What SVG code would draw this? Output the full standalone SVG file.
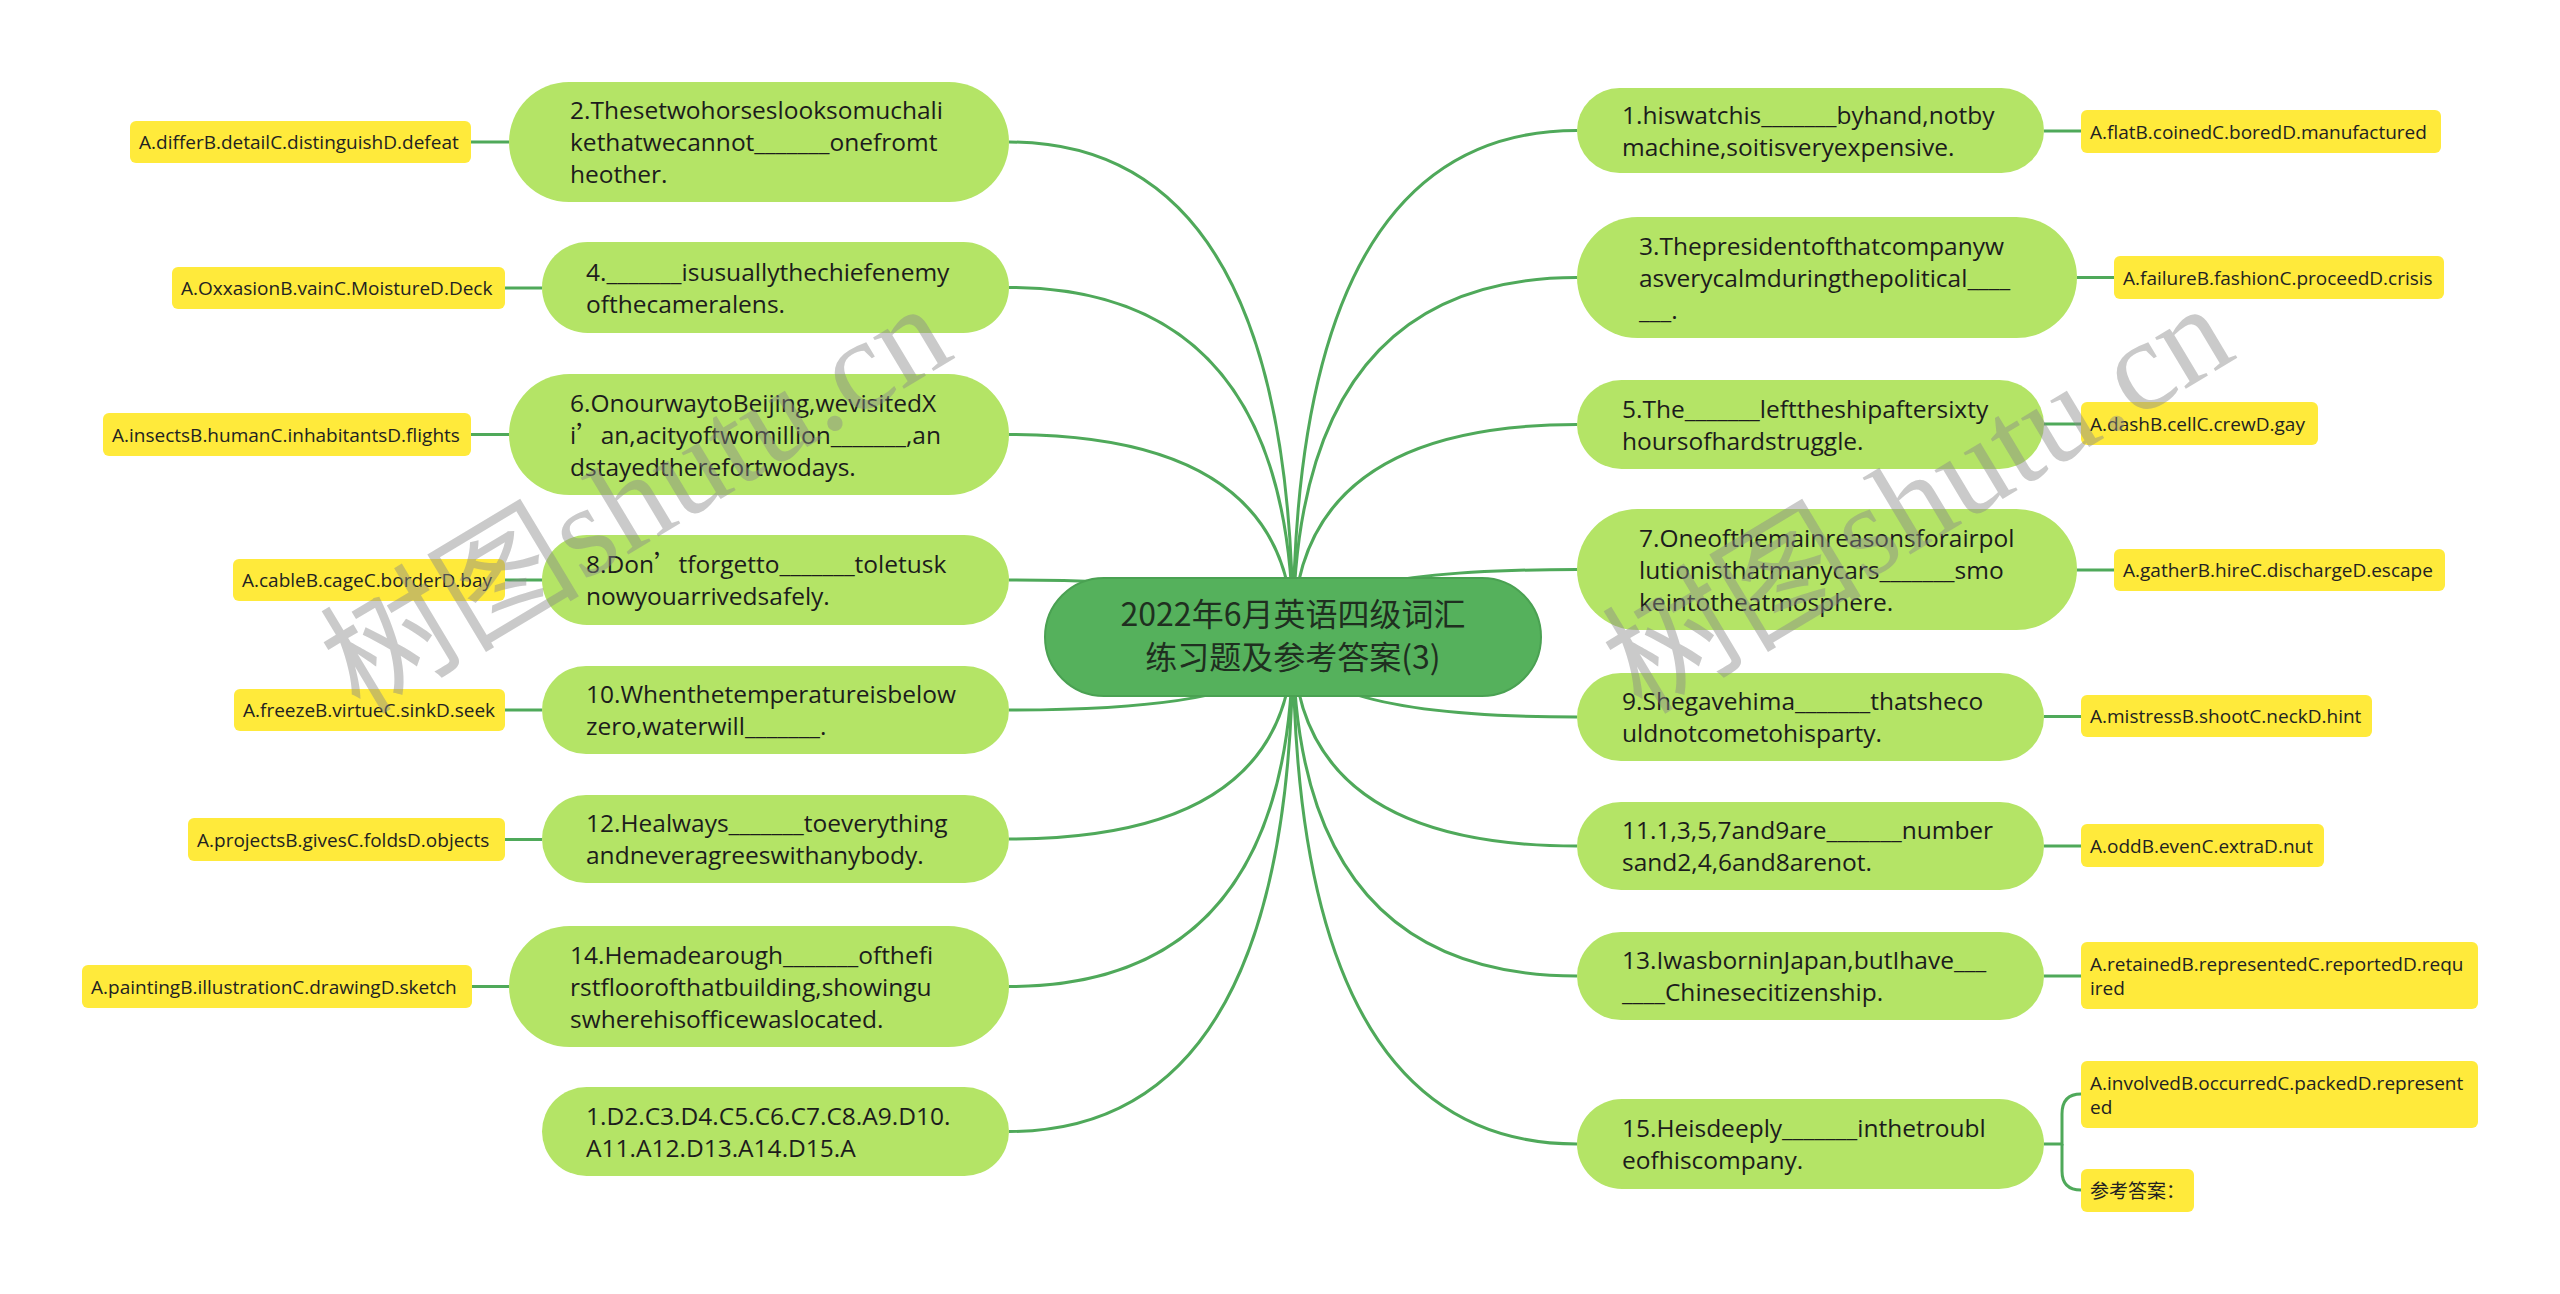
<svg xmlns="http://www.w3.org/2000/svg" width="2560" height="1294" viewBox="0 0 2560 1294">
<style>
.conn{fill:none;stroke:#4fa95a;stroke-width:3}
.root{fill:#55b15c;stroke:#4aa152;stroke-width:2}
.topic{fill:#b4e466}
.leaf{fill:#ffea3b}
.tt{font-family:"Open Sans","Noto Sans CJK SC",sans-serif;font-size:24.5px;fill:#1c1c1c}
.lt{font-family:"Open Sans","Noto Sans CJK SC",sans-serif;font-size:19px;fill:#222}
.rt{font-family:"Noto Sans CJK SC",sans-serif;font-size:32px;fill:#1f2f20;text-anchor:middle}
.q{font-family:"Noto Sans CJK SC",sans-serif}
.wm{font-family:"Liberation Serif","Noto Sans CJK SC",serif;font-size:130px;fill:#8a8a8a;fill-opacity:0.45;text-anchor:middle}
</style>
<rect width="2560" height="1294" fill="#ffffff"/>
<g id="connectors">
<path class="conn" d="M1293,637 Q1293,142 1009,142"/>
<path class="conn" d="M1293,637 Q1293,287.5 1009,287.5"/>
<path class="conn" d="M1293,637 Q1293,434.5 1009,434.5"/>
<path class="conn" d="M1293,637 Q1293,580 1009,580"/>
<path class="conn" d="M1293,637 Q1293,710 1009,710"/>
<path class="conn" d="M1293,637 Q1293,839 1009,839"/>
<path class="conn" d="M1293,637 Q1293,986.5 1009,986.5"/>
<path class="conn" d="M1293,637 Q1293,1131.5 1009,1131.5"/>
<path class="conn" d="M1293,637 Q1293,130.5 1577,130.5"/>
<path class="conn" d="M1293,637 Q1293,277.5 1577,277.5"/>
<path class="conn" d="M1293,637 Q1293,424.5 1577,424.5"/>
<path class="conn" d="M1293,637 Q1293,569.5 1577,569.5"/>
<path class="conn" d="M1293,637 Q1293,717 1577,717"/>
<path class="conn" d="M1293,637 Q1293,846 1577,846"/>
<path class="conn" d="M1293,637 Q1293,976 1577,976"/>
<path class="conn" d="M1293,637 Q1293,1144 1577,1144"/>
<path class="conn" d="M471,142 H509"/>
<path class="conn" d="M505,288 H542"/>
<path class="conn" d="M471,434.5 H509"/>
<path class="conn" d="M505,580 H542"/>
<path class="conn" d="M505,710 H542"/>
<path class="conn" d="M505,839.5 H542"/>
<path class="conn" d="M472,986.5 H509"/>
<path class="conn" d="M2044,131 H2081"/>
<path class="conn" d="M2077,277.5 H2114"/>
<path class="conn" d="M2044,424 H2081"/>
<path class="conn" d="M2077,570 H2114"/>
<path class="conn" d="M2044,716.5 H2081"/>
<path class="conn" d="M2044,846 H2081"/>
<path class="conn" d="M2044,976 H2081"/>
<path class="conn" d="M2044,1144 H2062 V1114 Q2062,1094 2081,1094"/>
<path class="conn" d="M2062,1144 V1171 Q2062,1190 2081,1190"/>
</g>
<g id="root">
<rect class="root" x="1045" y="578" width="496" height="118" rx="59"/>
<text class="rt" x="1293" y="626">2022年6月英语四级词汇</text>
<text class="rt" x="1293" y="669">练习题及参考答案(3)</text>
</g>
<g id="q2">
<rect class="topic" x="509" y="82" width="500" height="120" rx="60"/>
<text class="tt" x="570" y="119">2.Thesetwohorseslooksomuchali</text>
<text class="tt" x="570" y="151">kethatwecannot_______onefromt</text>
<text class="tt" x="570" y="183">heother.</text>
</g>
<g id="q4">
<rect class="topic" x="542" y="242" width="467" height="91" rx="45.5"/>
<text class="tt" x="586" y="280.5">4._______isusuallythechiefenemy</text>
<text class="tt" x="586" y="312.5">ofthecameralens.</text>
</g>
<g id="q6">
<rect class="topic" x="509" y="374" width="500" height="121" rx="60.5"/>
<text class="tt" x="570" y="411.5">6.OnourwaytoBeijing,wevisitedX</text>
<text class="tt" x="570" y="443.5">i<tspan class="q">’</tspan>an,acityoftwomillion_______,an</text>
<text class="tt" x="570" y="475.5">dstayedtherefortwodays.</text>
</g>
<g id="q8">
<rect class="topic" x="542" y="535" width="467" height="90" rx="45"/>
<text class="tt" x="586" y="573">8.Don<tspan class="q">’</tspan>tforgetto_______toletusk</text>
<text class="tt" x="586" y="605">nowyouarrivedsafely.</text>
</g>
<g id="q10">
<rect class="topic" x="542" y="666" width="467" height="88" rx="44"/>
<text class="tt" x="586" y="703">10.Whenthetemperatureisbelow</text>
<text class="tt" x="586" y="735">zero,waterwill_______.</text>
</g>
<g id="q12">
<rect class="topic" x="542" y="795" width="467" height="88" rx="44"/>
<text class="tt" x="586" y="832">12.Healways_______toeverything</text>
<text class="tt" x="586" y="864">andneveragreeswithanybody.</text>
</g>
<g id="q14">
<rect class="topic" x="509" y="926" width="500" height="121" rx="60.5"/>
<text class="tt" x="570" y="963.5">14.Hemadearough_______ofthefi</text>
<text class="tt" x="570" y="995.5">rstfloorofthatbuilding,showingu</text>
<text class="tt" x="570" y="1027.5">swherehisofficewaslocated.</text>
</g>
<g id="answers">
<rect class="topic" x="542" y="1087" width="467" height="89" rx="44.5"/>
<text class="tt" x="586" y="1124.5">1.D2.C3.D4.C5.C6.C7.C8.A9.D10.</text>
<text class="tt" x="586" y="1156.5">A11.A12.D13.A14.D15.A</text>
</g>
<g id="q1">
<rect class="topic" x="1577" y="88" width="467" height="85" rx="42.5"/>
<text class="tt" x="1622" y="123.5">1.hiswatchis_______byhand,notby</text>
<text class="tt" x="1622" y="155.5">machine,soitisveryexpensive.</text>
</g>
<g id="q3">
<rect class="topic" x="1577" y="217" width="500" height="121" rx="60.5"/>
<text class="tt" x="1639" y="254.5">3.Thepresidentofthatcompanyw</text>
<text class="tt" x="1639" y="286.5">asverycalmduringthepolitical____</text>
<text class="tt" x="1639" y="318.5">___.</text>
</g>
<g id="q5">
<rect class="topic" x="1577" y="380" width="467" height="89" rx="44.5"/>
<text class="tt" x="1622" y="417.5">5.The_______lefttheshipaftersixty</text>
<text class="tt" x="1622" y="449.5">hoursofhardstruggle.</text>
</g>
<g id="q7">
<rect class="topic" x="1577" y="509" width="500" height="121" rx="60.5"/>
<text class="tt" x="1639" y="546.5">7.Oneofthemainreasonsforairpol</text>
<text class="tt" x="1639" y="578.5">lutionisthatmanycars_______smo</text>
<text class="tt" x="1639" y="610.5">keintotheatmosphere.</text>
</g>
<g id="q9">
<rect class="topic" x="1577" y="673" width="467" height="88" rx="44"/>
<text class="tt" x="1622" y="710">9.Shegavehima_______thatsheco</text>
<text class="tt" x="1622" y="742">uldnotcometohisparty.</text>
</g>
<g id="q11">
<rect class="topic" x="1577" y="802" width="467" height="88" rx="44"/>
<text class="tt" x="1622" y="839">11.1,3,5,7and9are_______number</text>
<text class="tt" x="1622" y="871">sand2,4,6and8arenot.</text>
</g>
<g id="q13">
<rect class="topic" x="1577" y="932" width="467" height="88" rx="44"/>
<text class="tt" x="1622" y="969">13.IwasborninJapan,butIhave___</text>
<text class="tt" x="1622" y="1001">____Chinesecitizenship.</text>
</g>
<g id="q15">
<rect class="topic" x="1577" y="1099" width="467" height="90" rx="45"/>
<text class="tt" x="1622" y="1137">15.Heisdeeply_______inthetroubl</text>
<text class="tt" x="1622" y="1169">eofhiscompany.</text>
</g>
<g id="o2"><rect class="leaf" x="130" y="121" width="341" height="42" rx="6"/><text class="lt" x="139" y="149">A.differB.detailC.distinguishD.defeat</text></g>
<g id="o4"><rect class="leaf" x="172" y="267" width="333" height="42" rx="6"/><text class="lt" x="181" y="295">A.OxxasionB.vainC.MoistureD.Deck</text></g>
<g id="o6"><rect class="leaf" x="103" y="413" width="368" height="43" rx="6"/><text class="lt" x="112" y="441.5">A.insectsB.humanC.inhabitantsD.flights</text></g>
<g id="o8"><rect class="leaf" x="233" y="559" width="272" height="42" rx="6"/><text class="lt" x="242" y="587">A.cableB.cageC.borderD.bay</text></g>
<g id="o10"><rect class="leaf" x="234" y="689" width="271" height="42" rx="6"/><text class="lt" x="243" y="717">A.freezeB.virtueC.sinkD.seek</text></g>
<g id="o12"><rect class="leaf" x="188" y="818" width="317" height="43" rx="6"/><text class="lt" x="197" y="846.5">A.projectsB.givesC.foldsD.objects</text></g>
<g id="o14"><rect class="leaf" x="82" y="965" width="390" height="43" rx="6"/><text class="lt" x="91" y="993.5">A.paintingB.illustrationC.drawingD.sketch</text></g>
<g id="o1"><rect class="leaf" x="2081" y="110" width="360" height="43" rx="6"/><text class="lt" x="2090" y="138.5">A.flatB.coinedC.boredD.manufactured</text></g>
<g id="o3"><rect class="leaf" x="2114" y="256" width="330" height="43" rx="6"/><text class="lt" x="2123" y="284.5">A.failureB.fashionC.proceedD.crisis</text></g>
<g id="o5"><rect class="leaf" x="2081" y="402" width="237" height="43" rx="6"/><text class="lt" x="2090" y="430.5">A.dashB.cellC.crewD.gay</text></g>
<g id="o7"><rect class="leaf" x="2114" y="549" width="331" height="42" rx="6"/><text class="lt" x="2123" y="577">A.gatherB.hireC.dischargeD.escape</text></g>
<g id="o9"><rect class="leaf" x="2081" y="695" width="291" height="42" rx="6"/><text class="lt" x="2090" y="723">A.mistressB.shootC.neckD.hint</text></g>
<g id="o11"><rect class="leaf" x="2081" y="824" width="243" height="43" rx="6"/><text class="lt" x="2090" y="852.5">A.oddB.evenC.extraD.nut</text></g>
<g id="o13"><rect class="leaf" x="2081" y="942" width="397" height="67" rx="6"/><text class="lt" x="2090" y="970.5">A.retainedB.representedC.reportedD.requ</text><text class="lt" x="2090" y="994.5">ired</text></g>
<g id="o15"><rect class="leaf" x="2081" y="1061" width="397" height="67" rx="6"/><text class="lt" x="2090" y="1089.5">A.involvedB.occurredC.packedD.represent</text><text class="lt" x="2090" y="1113.5">ed</text></g>
<g id="ref"><rect class="leaf" x="2081" y="1169" width="113" height="43" rx="6"/><text class="lt" x="2090" y="1197.5" style="font-family:'Noto Sans CJK SC',sans-serif">参考答案：</text></g>
<g id="watermarks">
<text class="wm" x="645" y="540" transform="rotate(-31 645 514)">树图shutu.cn</text>
<text class="wm" x="1927" y="540" transform="rotate(-31 1927 514)">树图shutu.cn</text>
</g>
</svg>
